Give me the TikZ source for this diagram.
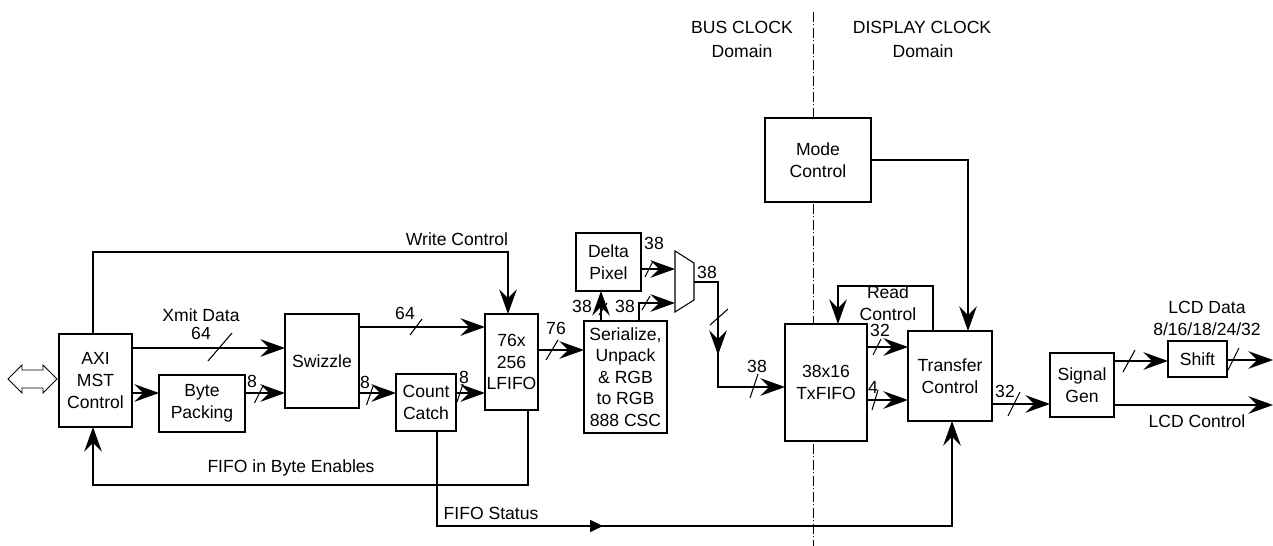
\documentclass[tikz,border=0pt]{standalone}
\usepackage{fontspec}
\setmainfont{Liberation Sans}
\usetikzlibrary{arrows.meta}
\newcommand\lbl{\fontsize{10}{12.3}\selectfont}
\newcommand\busmark[4]{\draw[bm] (#1-#3,#2+#4) -- (#1+#3,#2-#4);}
\tikzset{
  blk/.style={draw, fill=white, line width=0.85pt, inner sep=0pt, outer sep=0pt, align=center, font=\lbl},
  conn/.style={line width=0.9pt},
  tipst/.tip={Stealth[length=14pt,width=10pt,inset=5pt]},
  arr/.style={conn, -tipst},
  lab/.style={inner sep=0pt, font=\lbl, align=center},
  bm/.style={line width=0.6pt},
}
\begin{document}
\begin{tikzpicture}[x=0.02cm, y=-0.02cm]
\useasboundingbox (0,0) rectangle (1273,546);
% clock domain divider
\draw[line width=0.5pt, dash pattern=on 0.2cm off 0.05cm on 0.02cm off 0.05cm] (813,12) -- (813,546);
\node[lab] (bus1) at (742,27) {BUS CLOCK};
\node[lab] (bus2) at (742,51) {Domain};
\node[lab] (dis1) at (922,27) {DISPLAY CLOCK};
\node[lab] (dis2) at (923,51) {Domain};

% blocks
\node[blk, minimum width=73*0.02cm, minimum height=93*0.02cm] (axi) at (95.5,380.5) {AXI\\MST\\Control};
\node[blk, minimum width=86*0.02cm, minimum height=57*0.02cm] (byte) at (202,403.5) {Byte\\Packing};
\node[blk, minimum width=74*0.02cm, minimum height=94*0.02cm] (swz) at (322,361) {Swizzle};
\node[blk, minimum width=60*0.02cm, minimum height=57*0.02cm] (cc) at (426,402.5) {Count\\Catch};
\node[blk, minimum width=53*0.02cm, minimum height=96*0.02cm] (lfifo) at (511.5,362) {76x\\256\\LFIFO};
\node[blk, minimum width=83*0.02cm, minimum height=112*0.02cm] (ser) at (625.5,377) {Serialize,\\Unpack\\\& RGB\\to RGB\\888 CSC};
\node[blk, minimum width=65*0.02cm, minimum height=58*0.02cm] (delta) at (608.5,262) {Delta\\Pixel};
\node[blk, minimum width=82*0.02cm, minimum height=117*0.02cm] (txf) at (826,382.5) {38x16\\TxFIFO};
\node[blk, minimum width=84*0.02cm, minimum height=90*0.02cm] (tc) at (950,376) {Transfer\\Control};
\node[blk, minimum width=64*0.02cm, minimum height=64*0.02cm] (sg) at (1082,385) {Signal\\Gen};
\node[blk, minimum width=59*0.02cm, minimum height=36*0.02cm] (shift) at (1197.5,359) {Shift};
\node[blk, minimum width=106*0.02cm, minimum height=84*0.02cm] (mode) at (818,160) {Mode\\Control};

% mux
\draw[line width=0.6pt] (675,251) -- (694,263) -- (694,300) -- (675,312) -- cycle;
\coordinate (muxin1) at (675,269);
\coordinate (muxin2) at (675,303);
\coordinate (muxout) at (694,282);

% bus interface double arrow
\draw[line width=0.5pt] (8,379) -- (22,365) -- (22,370) -- (43,370) -- (43,365) -- (57,379) -- (43,393) -- (43,388) -- (22,388) -- (22,393) -- cycle;

% Write Control
\draw[arr] (axi.north -| 93,0) -- (93,252) -- (508,252) -- (lfifo.north -| 508,0);
\node[lab] (wc) at (457,239) {Write Control};

% Xmit Data
\draw[arr] (axi.east |- 0,348) -- (swz.west |- 0,348);
\busmark{220}{347}{12}{14}
\node[lab] (xd) at (201,315) {Xmit Data};
\node[lab] (xd64) at (201,333) {64};

% AXI -> Byte Packing
\draw[arr] (axi.east |- 0,393) -- (byte.west |- 0,393);
% Byte Packing -> Swizzle
\draw[arr] (byte.east |- 0,393) -- (swz.west |- 0,393);
\busmark{259}{394}{4.5}{9}
\node[lab] (l8a) at (252,381) {8};
% Swizzle -> Count Catch
\draw[arr] (swz.east |- 0,393) -- (cc.west |- 0,393);
\busmark{370}{395}{3.5}{10}
\node[lab] (l8b) at (365,382) {8};
% Swizzle -> LFIFO
\draw[arr] (swz.east |- 0,327) -- (lfifo.west |- 0,327);
\busmark{416}{327}{6}{8}
\node[lab] (l64) at (405,313) {64};
% Count Catch -> LFIFO
\draw[arr] (cc.east |- 0,393) -- (lfifo.west |- 0,393);
\busmark{460}{393}{3}{9}
\node[lab] (l8c) at (464,377) {8};
% LFIFO -> Serialize
\draw[arr] (lfifo.east |- 0,350) -- (ser.west |- 0,350);
\busmark{552}{350}{6}{10}
\node[lab] (l76) at (556,328) {76};
% Serialize -> Delta Pixel
\draw[arr] (ser.north -| 601,0) -- (delta.south -| 601,0);
\busmark{603}{309}{4}{6}
\node[lab] (l38a) at (582,306) {38};
% Serialize -> mux
\draw[arr] (ser.north -| 639,0) -- (639,303) -- (muxin2);
\busmark{646}{303}{4}{7}
\node[lab] (l38b) at (625,306) {38};
% Delta -> mux
\draw[arr] (delta.east |- 0,269) -- (muxin1);
\busmark{649}{269}{4}{8}
\node[lab] (l38c) at (654,243) {38};
% mux -> TxFIFO
\draw[arr] (muxout) -- (718,282) -- (718,387) -- (txf.west |- 0,387);
\draw[conn, -tipst] (718,330) -- (718,355);
\busmark{719}{317}{9}{8}
\node[lab] (l38d) at (707,272) {38};
\busmark{754}{386}{4}{12}
\node[lab] (l38e) at (757,366) {38};

% Read Control
\draw[arr] (tc.north -| 933,0) -- (933,286) -- (838,286) -- (txf.north -| 838,0);
\node[lab] (rc) at (888,303) {Read\\Control};
% TxFIFO -> Transfer
\draw[arr] (txf.east |- 0,347) -- (tc.west |- 0,347);
\busmark{877}{347}{4}{8}
\node[lab] (l32a) at (880,330) {32};
\draw[arr] (txf.east |- 0,400) -- (tc.west |- 0,400);
\busmark{875}{400}{3}{10}
\node[lab] (l4) at (873,387) {4};
% Mode -> Transfer
\draw[arr] (mode.east |- 0,160) -- (968,160) -- (tc.north -| 968,0);
% Transfer -> Signal Gen
\draw[arr] (tc.east |- 0,404) -- (sg.west |- 0,404);
\busmark{1014}{404}{6}{12}
\node[lab] (l32b) at (1005,391) {32};
% Signal Gen -> Shift
\draw[arr] (sg.east |- 0,361) -- (shift.west |- 0,361);
\busmark{1129}{361}{6}{11}
\node[lab] (lcd1) at (1207,307) {LCD Data};
\node[lab] (lcd2) at (1207,329) {8/16/18/24/32};
% Shift -> out
\coordinate (lcdout) at (1273,360);
\draw[arr] (shift.east |- 0,360) -- (lcdout);
\busmark{1233}{360}{6}{12}
% Signal Gen -> LCD Control
\coordinate (lcdctl) at (1273,405);
\draw[arr] (sg.east |- 0,405) -- (lcdctl);
\node[lab] (lcdc) at (1197,421) {LCD Control};

% FIFO in Byte Enables
\draw[arr] (lfifo.south -| 528,0) -- (528,485) -- (93,485) -- (axi.south -| 93,0);
\node[lab] (fbe) at (291,468) {FIFO in Byte Enables};
% FIFO Status
\draw[arr] (cc.south -| 437,0) -- (437,526) -- (952,526) -- (tc.south -| 952,0);
\draw[conn, -{Triangle[length=0.26cm,width=0.24cm]}] (580,526) -- (603,526);
\node[lab] (fst) at (491,513) {FIFO Status};
\end{tikzpicture}
\end{document}
